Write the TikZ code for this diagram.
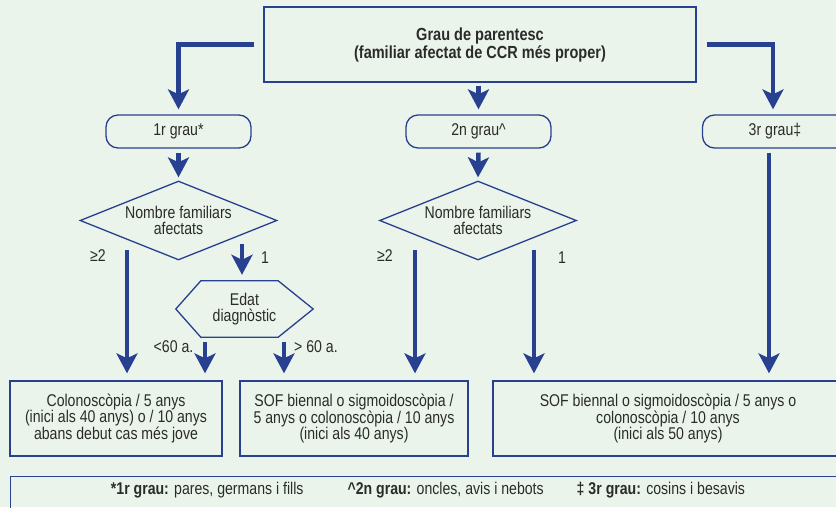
\documentclass[tikz,border=0pt]{standalone}
\usepackage{fontspec}
\setmainfont{Liberation Sans}[FakeStretch=0.83]
\usetikzlibrary{arrows.meta,shapes.geometric,calc}
\definecolor{bgc}{HTML}{EAF4EA}
\definecolor{bl}{HTML}{27408F}
\definecolor{tx}{HTML}{2B2B2B}
\begin{document}
\begin{tikzpicture}[x=1pt,y=-1pt,
  font=\fontsize{17}{15.8}\selectfont, text=tx,
  box/.style={draw=bl, line width=1.3pt, rectangle, align=center, inner sep=0pt},
  rbox/.style={box, rounded corners=12pt, minimum width=145pt, minimum height=33pt},
  dia/.style={draw=bl, line width=1.3pt, diamond, aspect=2.5, minimum width=197pt,
    minimum height=79pt, inner sep=0pt, align=center},
  edge/.style={draw=bl, line width=1.3pt, line join=miter},
  arr/.style={draw=bl, line width=4.5pt, -{Stealth[length=20pt,width=21pt,inset=5pt]}},
  lab/.style={inner sep=0pt}]
\useasboundingbox (0,0) rectangle (836,507);
\clip (0,0) rectangle (836,507);
\fill[bgc] (0,0) rectangle (836,507);

\node[box, minimum width=432pt, minimum height=75pt,
  font=\fontsize{17.5}{18}\selectfont\bfseries] (top) at (480,44.5)
  {Grau de parentesc\\(familiar afectat de CCR més proper)};

\node[rbox] (g1) at (178.5,131.5) {1r grau*};
\node[rbox] (g2) at (478.5,131.5) {2n grau\textasciicircum};
\node[rbox] (g3) at (775,131.5) {3r grau‡};

\node[dia] (d1) at (178.5,220.5) {Nombre familiars\\afectats};
\node[dia] (d2) at (478,220.5) {Nombre familiars\\afectats};

\node[inner sep=0pt, minimum width=137pt, minimum height=56pt, align=center]
  (edat) at (244.5,309) {Edat\\diagnòstic};
\draw[edge] (edat.west) -- ([xshift=25pt]edat.north west) -- ([xshift=-35pt]edat.north east)
  -- (edat.east) -- ([xshift=-35pt]edat.south east) -- ([xshift=25pt]edat.south west) -- cycle;

\node[box, minimum width=212pt, minimum height=75pt] (b1) at (116,418.5)
  {Colonoscòpia / 5 anys\\(inici als 40 anys) o / 10 anys\\abans debut cas més jove};
\node[box, minimum width=228pt, minimum height=75pt] (b2) at (354,418.5)
  {SOF biennal o sigmoidoscòpia /\\5 anys o colonoscòpia / 10 anys\\(inici als 40 anys)};
\node[box, minimum width=350pt, minimum height=75pt] (b3) at (668,418.5)
  {SOF biennal o sigmoidoscòpia / 5 anys o\\colonoscòpia / 10 anys\\(inici als 50 anys)};

\node[box, minimum width=840pt, minimum height=40pt, anchor=north west] (foot) at (10,476) {};
\node[lab] (fn) at (428,490) {\textbf{*1r grau:} pares, germans i fills\hspace{44pt}\textbf{\textasciicircum 2n grau:} oncles, avis i nebots\hspace{33pt}\textbf{‡ 3r grau:} cosins i besavis};

% labels
\node[lab] (la) at (98,256) {≥2};
\node[lab] (lb) at (265,258) {1};
\node[lab] (lc) at (385,256) {≥2};
\node[lab] (ld) at (562,258) {1};
\node[lab] (le) at (173.5,347) {<60 a.};
\node[lab] (lf) at (316,347) {> 60 a.};

% arrows
\draw[arr] ([xshift=-9pt]top.west) -| ([yshift=5pt]g1.north);
\draw[arr] ([xshift=10pt]top.east) -| ([xshift=-2pt,yshift=5pt]g3.north);
\draw[arr] ($(g2.north |- top.south)+(0,3)$) -- ([yshift=5pt]g2.north);

\draw[arr] ([yshift=-4pt]g1.south) -- ([yshift=3pt]d1.north);
\draw[arr] ([yshift=-4pt]g2.south) -- ([yshift=3pt]d2.north);
\draw[arr] ([xshift=-6pt,yshift=-4pt]g3.south) -- ($(g3.south |- b3.north)+(-6,-7)$);

\draw[arr] ($(d1.south)+(-51.5,-11)$) -- ($(b1.north)+(11,-7)$);
\draw[arr] ($(d1.south)+(63.5,-17)$) -- ($(edat.north)+(-2.5,-6)$);
\draw[arr] ($(edat.south)+(-39.5,5)$) -- ($(b1.north)+(89,-7)$);
\draw[arr] ($(edat.south)+(39.5,5)$) -- ($(b2.north)+(-70,-7)$);
\draw[arr] ($(d2.south)+(-63,-11)$) -- ($(b2.north)+(61,-7)$);
\draw[arr] ($(d2.south)+(56,-11)$) -- ($(b3.north)+(-134,-7)$);
\end{tikzpicture}
\end{document}
